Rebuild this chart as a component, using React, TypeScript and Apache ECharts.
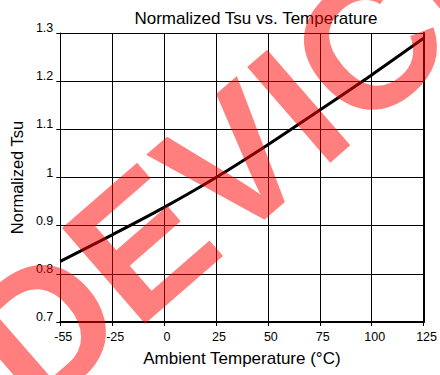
import React, { useEffect, useRef } from "react";
import * as echarts from "echarts";

const temperatures = ["-55", "-25", "0", "25", "50", "75", "100", "125"];
const normalizedTsu = [0.826, 0.881, 0.938, 1.0, 1.068, 1.14, 1.213, 1.289];
const titleText = "Normalized Tsu vs. Temperature";
const xName = "Ambient Temperature (°C)";
const yName = "Normalized Tsu";
const watermark = "DEVICE";

export default function App() {
  const ref = useRef<HTMLDivElement>(null);
  useEffect(() => {
    if (!ref.current) return;
    const chart = echarts.init(ref.current, null, { renderer: "svg" });
    const font = "'Liberation Sans', Arial, Helvetica, sans-serif";
    chart.setOption({
      animation: false,
      backgroundColor: "#ffffff",
      textStyle: { fontFamily: font },
      title: {
        text: titleText,
        left: 251,
        top: 5,
        textAlign: "center",
        textStyle: { fontFamily: font, fontWeight: "normal", fontSize: 17, color: "#000" },
      },
      grid: { left: 59, top: 33, right: 11, bottom: 53 },
      xAxis: {
        type: "category",
        data: temperatures,
        boundaryGap: false,
        name: xName,
        nameLocation: "middle",
        nameGap: 28,
        nameTextStyle: { fontFamily: font, fontSize: 17, color: "#000" },
        axisLine: { show: true, lineStyle: { color: "#000", width: 2 } },
        axisTick: { show: true, length: 4, lineStyle: { color: "#000" } },
        axisLabel: { fontFamily: font, fontSize: 12.5, color: "#000", margin: 8, padding: [0, 0, 0, 6] },
        splitLine: { show: true, lineStyle: { color: "#000", width: 1 } },
      },
      yAxis: [
        {
          type: "value",
          min: 0.7,
          max: 1.3,
          interval: 0.1,
          name: yName,
          nameLocation: "middle",
          nameGap: 34,
          nameTextStyle: { fontFamily: font, fontSize: 16.5, color: "#000" },
          axisLine: { show: true, lineStyle: { color: "#000", width: 1 } },
          axisTick: { show: true, length: 4, lineStyle: { color: "#000" } },
          axisLabel: {
            fontFamily: font,
            fontSize: 12.5,
            color: "#000",
            margin: 7,
            verticalAlign: "bottom",
            lineHeight: 10,
          },
          splitLine: { show: true, lineStyle: { color: "#000", width: 1 } },
        },
        {
          type: "value",
          position: "right",
          min: 0.7,
          max: 1.3,
          interval: 0.1,
          axisLine: { show: true, lineStyle: { color: "#000", width: 2 } },
          axisTick: { show: false },
          axisLabel: { show: false },
          splitLine: { show: false },
        },
      ],
      series: [
        {
          type: "line",
          data: normalizedTsu,
          smooth: 0.3,
          symbol: "none",
          lineStyle: { color: "#000", width: 3 },
          z: 3,
        },
      ],
      graphic: [
        {
          type: "text",
          x: 252,
          y: 146,
          rotation: (41 * Math.PI) / 180,
          z: 100,
          silent: true,
          style: {
            text: watermark,
            font: "bold 184px 'Liberation Sans', Arial, sans-serif",
            fill: "rgba(255,0,0,0.5)",
            textAlign: "center",
            textVerticalAlign: "middle",
          },
        },
      ],
    });
    return () => chart.dispose();
  }, []);
  return (
    <div
      ref={ref}
      style={{ position: "fixed", left: 0, top: 0, width: 440, height: 375 }}
    />
  );
}
